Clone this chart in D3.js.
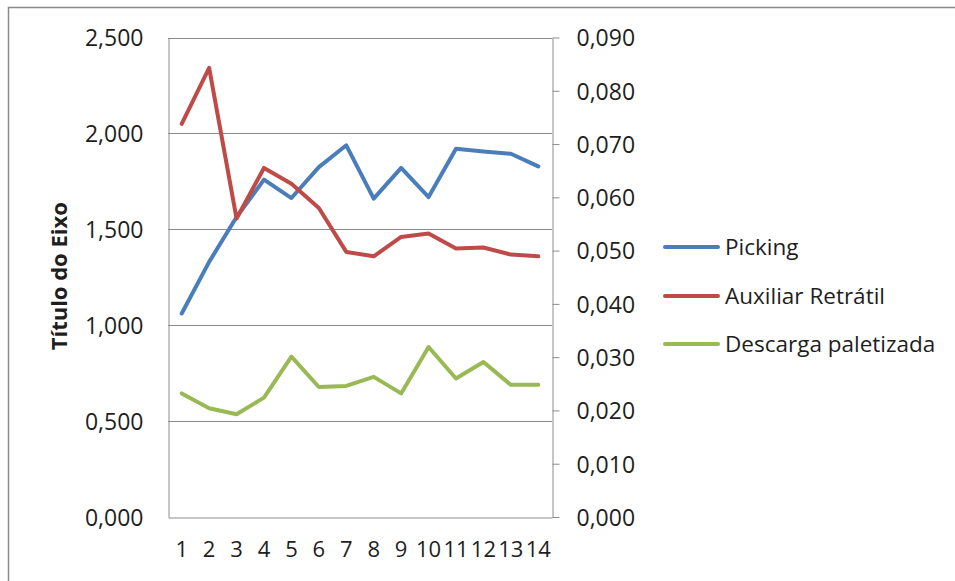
<!DOCTYPE html>
<html>
<head>
<meta charset="utf-8">
<script src="https://cdn.jsdelivr.net/npm/d3@7/dist/d3.min.js"></script>
<style>
  html, body { margin: 0; padding: 0; background: #fff; }
  svg { display: block; }
  text { font-family: "Open Sans", "Noto Sans", sans-serif; fill: #1e1e1e; }
</style>
</head>
<body>
<svg id="chart" width="955" height="581"></svg>
<script>
// Categories (1..14)
const categories = [1, 2, 3, 4, 5, 6, 7, 8, 9, 10, 11, 12, 13, 14];

// Series on the primary (left) axis
const picking = [1.061, 1.330, 1.564, 1.759, 1.663, 1.824, 1.938, 1.660, 1.820, 1.668, 1.920, 1.906, 1.894, 1.828];
const auxiliarRetratil = [2.050, 2.342, 1.556, 1.820, 1.738, 1.611, 1.382, 1.359, 1.460, 1.478, 1.400, 1.405, 1.368, 1.359];

// Series on the secondary (right) axis
const descargaPaletizada = [0.0232, 0.0204, 0.0193, 0.0224, 0.0301, 0.0244, 0.0246, 0.0263, 0.0232, 0.0319, 0.0260, 0.0291, 0.0248, 0.0248];

// Tick values
const leftTicks = [0, 0.5, 1.0, 1.5, 2.0, 2.5];
const rightTicks = [0, 0.01, 0.02, 0.03, 0.04, 0.05, 0.06, 0.07, 0.08, 0.09];

const seriesNames = ["Picking", "Auxiliar Retrátil", "Descarga paletizada"];
const seriesColors = ["#4a7ebb", "#be4b48", "#98b954"];

const svg = d3.select("#chart");

const plot = { left: 168, right: 552, top: 37.5, bottom: 517 };

const x = d3.scaleBand().domain(categories).range([plot.left, plot.right]);
const yLeft = d3.scaleLinear().domain([0, 2.5]).range([plot.bottom, plot.top]);
const yRight = d3.scaleLinear().domain([0, 0.09]).range([plot.bottom, plot.top]);

const fmt = v => d3.format(".3f")(v).replace(".", ",");

// Chart frame
svg.append("rect")
  .attr("x", 8.5).attr("y", 7.5)
  .attr("width", 960).attr("height", 600)
  .attr("fill", "none")
  .attr("stroke", "#8a8a8a")
  .attr("stroke-width", 1.5);

// Horizontal gridlines from the primary axis
svg.append("g")
  .selectAll("line")
  .data(leftTicks.filter(d => d > 0))
  .join("line")
  .attr("x1", plot.left).attr("x2", plot.right)
  .attr("y1", d => Math.round(yLeft(d)) + 0.5)
  .attr("y2", d => Math.round(yLeft(d)) + 0.5)
  .attr("stroke", "#8c8c8c")
  .attr("stroke-width", 1);

// Left axis (no ticks, labels only) and its line
const leftAxis = d3.axisLeft(yLeft).tickValues(leftTicks).tickFormat(fmt).tickSize(0).tickPadding(25);
const gLeft = svg.append("g").attr("transform", `translate(${plot.left + 0.5},0)`).call(leftAxis);
gLeft.select(".domain").attr("stroke", "#8c8c8c");
gLeft.selectAll("text").style("font-size", "23px").attr("fill", "#1e1e1e").attr("dy", "0.36em");

// Bottom axis line and category labels
const bottomAxis = d3.axisBottom(x).tickSize(0).tickPadding(24);
const gBottom = svg.append("g").attr("transform", `translate(0,${plot.bottom + 0.5})`).call(bottomAxis);
gBottom.select(".domain").attr("stroke", "#8c8c8c");
gBottom.selectAll("text").style("font-size", "22px").attr("fill", "#1e1e1e");

// Right axis with outward ticks
const rightAxis = d3.axisRight(yRight).tickValues(rightTicks).tickFormat(fmt).tickSize(7).tickSizeOuter(0).tickPadding(17);
const gRight = svg.append("g").attr("transform", `translate(${plot.right + 0.5},0)`).call(rightAxis);
gRight.select(".domain").attr("stroke", "#8c8c8c");
gRight.selectAll(".tick line").attr("stroke", "#8c8c8c");
gRight.selectAll("text").style("font-size", "23px").attr("fill", "#1e1e1e").attr("dy", "0.36em");

gLeft.attr("font-family", null);
gBottom.attr("font-family", null);
gRight.attr("font-family", null);

// Axis title
svg.append("text")
  .attr("transform", `translate(67,${(plot.top + plot.bottom) / 2 - 1}) rotate(-90)`)
  .attr("text-anchor", "middle")
  .style("font-size", "22px")
  .style("font-weight", "bold")
  .text("Título do Eixo");

// Lines
const cx = d => x(d) + x.bandwidth() / 2;
const series = [
  { values: picking, scale: yLeft },
  { values: auxiliarRetratil, scale: yLeft },
  { values: descargaPaletizada, scale: yRight }
];

series.forEach((s, i) => {
  const line = d3.line()
    .x((d, j) => cx(categories[j]))
    .y(d => s.scale(d));
  svg.append("path")
    .datum(s.values)
    .attr("d", line)
    .attr("fill", "none")
    .attr("stroke", seriesColors[i])
    .attr("stroke-width", 4)
    .attr("stroke-linejoin", "round")
    .attr("stroke-linecap", "round");
});

// Legend
const legendY = [247, 296, 344];
const legend = svg.append("g");
seriesNames.forEach((name, i) => {
  legend.append("line")
    .attr("x1", 665).attr("x2", 718)
    .attr("y1", legendY[i]).attr("y2", legendY[i])
    .attr("stroke", seriesColors[i])
    .attr("stroke-width", 4)
    .attr("stroke-linecap", "round");
  legend.append("text")
    .attr("x", 725).attr("y", legendY[i])
    .attr("dy", "0.36em")
    .style("font-size", "22.5px")
    .text(name);
});
</script>
</body>
</html>
